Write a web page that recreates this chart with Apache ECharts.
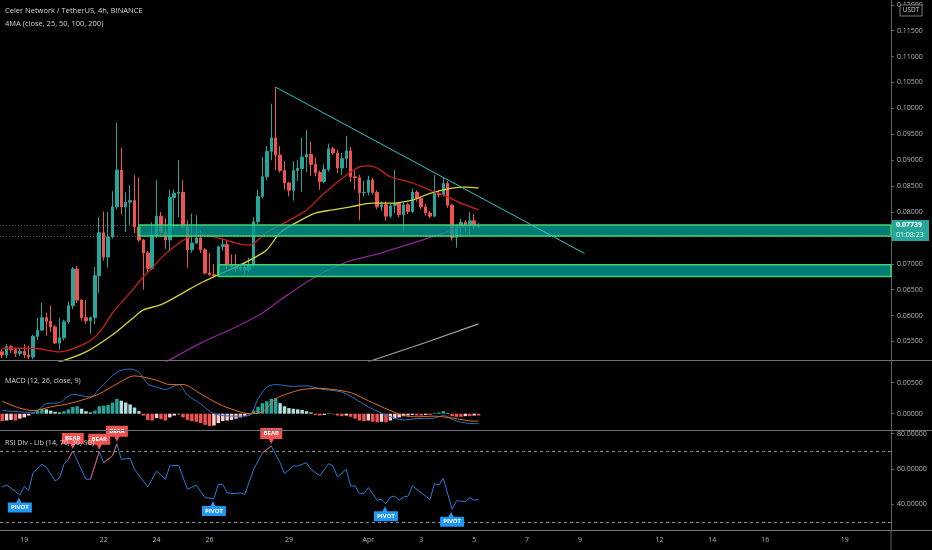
<!DOCTYPE html>
<html><head><meta charset="utf-8">
<script src="https://cdn.jsdelivr.net/npm/echarts@6/dist/echarts.min.js"></script>
<style>html,body{margin:0;padding:0;background:#000;}#c{width:932px;height:550px;}</style>
</head><body><div id="c"></div>
<script>
// ---- axis / tick data ----
const N_SLOTS = 202; // 4h slots shown on the time axis
const tickIdx  = [5,23,35,47,65,83,95,107,119,131,149,161,173,191];
const tickText = ['19','22','24','26','29','Apr','3','5','7','9','12','14','16','19'];
const priceTicks = [0.055,0.06,0.065,0.07,0.075,0.08,0.085,0.09,0.095,0.10,0.105,0.11,0.115,0.12];
const macdTicks = [0, 0.005];
const rsiTicks = [40, 60, 80];
const lastPrice = 0.07739;
const countdown = '01:08:23';

// ---- candles: [open, close, low, high] ----
const candles = [
[0.0530,0.0524,0.0518,0.0535],[0.0524,0.0540,0.0518,0.0545],[0.0540,0.0534,0.0528,0.0543],[0.0534,0.0527,0.0520,0.0538],
[0.0527,0.0531,0.0522,0.0536],[0.0531,0.0524,0.0518,0.0545],[0.0524,0.0520,0.0516,0.0542],[0.0520,0.0560,0.0516,0.0563],
[0.0560,0.0572,0.0553,0.0596],[0.0572,0.0596,0.0570,0.0625],[0.0596,0.0589,0.0561,0.0606],[0.0589,0.0578,0.0569,0.0619],
[0.0578,0.0547,0.0545,0.0582],[0.0547,0.0557,0.0534,0.0596],[0.0557,0.0588,0.0552,0.0592],[0.0588,0.0619,0.0584,0.0627],
[0.0619,0.0690,0.0612,0.0694],[0.0690,0.0630,0.0624,0.0696],[0.0630,0.0596,0.0590,0.0632],[0.0596,0.0590,0.0584,0.0630],
[0.0590,0.0596,0.0565,0.0598],[0.0596,0.0677,0.0583,0.0694],[0.0677,0.0760,0.0644,0.0790],[0.0760,0.0713,0.0706,0.0801],
[0.0713,0.0752,0.0693,0.0800],[0.0752,0.0810,0.0749,0.0840],[0.0810,0.0881,0.0805,0.0972],[0.0881,0.0810,0.0795,0.0924],
[0.0810,0.0819,0.0761,0.0838],[0.0819,0.0822,0.0775,0.0852],[0.0822,0.0771,0.0759,0.0871],[0.0771,0.0746,0.0742,0.0866],
[0.0746,0.0721,0.0650,0.0748],[0.0721,0.0691,0.0684,0.0725],[0.0691,0.0755,0.0688,0.0780],[0.0755,0.0792,0.0750,0.0862],
[0.0792,0.0761,0.0752,0.0800],[0.0761,0.0746,0.0729,0.0788],[0.0746,0.0828,0.0724,0.0843],[0.0828,0.0836,0.0767,0.0843],
[0.0836,0.0838,0.0790,0.0900],[0.0838,0.0771,0.0768,0.0862],[0.0771,0.0727,0.0692,0.0784],[0.0727,0.0740,0.0721,0.0797],
[0.0740,0.0750,0.0738,0.0794],[0.0750,0.0727,0.0721,0.0764],[0.0727,0.0682,0.0680,0.0731],[0.0682,0.0679,0.0677,0.0721],
[0.0679,0.0677,0.0673,0.0700],[0.0677,0.0733,0.0675,0.0735],[0.0733,0.0737,0.0725,0.0748],[0.0737,0.0698,0.0690,0.0745],
[0.0698,0.0694,0.0688,0.0718],[0.0694,0.0690,0.0684,0.0718],[0.0690,0.0693,0.0686,0.0700],[0.0693,0.0688,0.0680,0.0703],
[0.0688,0.0697,0.0684,0.0712],[0.0697,0.0781,0.0693,0.0790],[0.0781,0.0830,0.0777,0.0843],[0.0830,0.0868,0.0826,0.0906],
[0.0868,0.0917,0.0862,0.0927],[0.0917,0.0943,0.0900,0.1009],[0.0943,0.0910,0.0881,0.1041],[0.0910,0.0880,0.0876,0.0927],
[0.0880,0.0856,0.0843,0.0898],[0.0856,0.0842,0.0830,0.0858],[0.0842,0.0880,0.0822,0.0898],[0.0880,0.0884,0.0860,0.0900],
[0.0884,0.0906,0.0839,0.0943],[0.0906,0.0911,0.0877,0.0958],[0.0911,0.0892,0.0870,0.0936],[0.0892,0.0876,0.0869,0.0905],
[0.0876,0.0859,0.0843,0.0880],[0.0859,0.0882,0.0855,0.0892],[0.0882,0.0922,0.0878,0.0932],[0.0922,0.0914,0.0910,0.0926],
[0.0914,0.0885,0.0875,0.0920],[0.0885,0.0903,0.0871,0.0914],[0.0903,0.0918,0.0885,0.0947],[0.0918,0.0868,0.0858,0.0926],
[0.0868,0.0866,0.0843,0.0880],[0.0866,0.0837,0.0784,0.0872],[0.0837,0.0838,0.0830,0.0860],[0.0838,0.0862,0.0832,0.0870],
[0.0862,0.0838,0.0834,0.0866],[0.0838,0.0810,0.0805,0.0842],[0.0810,0.0814,0.0802,0.0820],[0.0814,0.0792,0.0783,0.0820],
[0.0792,0.0812,0.0788,0.0816],[0.0812,0.0817,0.0797,0.0881],[0.0817,0.0795,0.0790,0.0820],[0.0795,0.0814,0.0762,0.0818],
[0.0814,0.0801,0.0796,0.0818],[0.0801,0.0838,0.0798,0.0845],[0.0838,0.0826,0.0820,0.0842],[0.0826,0.0810,0.0805,0.0830],
[0.0810,0.0798,0.0793,0.0815],[0.0798,0.0792,0.0788,0.0802],[0.0792,0.0836,0.0790,0.0871],[0.0836,0.0833,0.0828,0.0840],
[0.0833,0.0855,0.0830,0.0866],[0.0855,0.0813,0.0808,0.0860],[0.0813,0.0751,0.0745,0.0816],[0.0751,0.0772,0.0731,0.0776],
[0.0772,0.0780,0.0752,0.0787],[0.0780,0.0775,0.0760,0.0784],[0.0775,0.0783,0.0756,0.0800],[0.0783,0.0772,0.0766,0.0796],
[0.0772,0.07739,0.0768,0.0779]
];

// ---- moving averages [slot, value] ----
const ma25 = [[0,0.0537],[7,0.0537],[13,0.0530],[19,0.0547],[22,0.0567],[25,0.0605],[29,0.0644],[32,0.0675],[34,0.0692],[36,0.0711],[39,0.0733],[42,0.0750],[45,0.0756],[49,0.0750],[53,0.0740],[56,0.0736],[60,0.0761],[64,0.0779],[69,0.0804],[73,0.0836],[78,0.0871],[81,0.0887],[83,0.0889],[85,0.0885],[88,0.0868],[93,0.0856],[97,0.0842],[100,0.0833],[104,0.0817],[108,0.0804]];
const ma50 = [[12,0.0508],[19,0.0530],[25,0.0563],[30,0.0598],[32,0.0611],[36,0.0621],[41,0.0644],[45,0.0663],[48,0.0675],[53,0.0694],[57,0.0711],[60,0.0727],[63,0.0760],[67,0.0781],[71,0.0798],[75,0.0804],[79,0.0810],[84,0.0817],[88,0.0817],[93,0.0823],[97,0.0836],[102,0.0846],[105,0.0848],[108,0.0846]];
const ma100 = [[37,0.0510],[45,0.0547],[53,0.0578],[59,0.0605],[63,0.0630],[71,0.0675],[78,0.0703],[86,0.0721],[93,0.0740],[100,0.0759],[103,0.0769],[108,0.0775]];
const ma200 = [[83,0.0511],[96,0.0548],[108,0.0584]];

// ---- drawings ----
const trendLine = [[62,0.1041],[132,0.0720]];
const zones = [[31,0.07750,0.07537],[49,0.06980,0.06755]]; // [startSlot, top, bottom]
const priceLines = [0.07739, 0.07524];

// ---- MACD ----
const macdHist = [-0.0012,-0.0011,-0.0010,-0.0011,-0.0008,-0.0006,-0.0003,0.0002,0.0005,0.0008,0.0007,0.0005,0.0003,0.0002,0.0004,0.0007,
0.0011,0.0012,0.0008,0.0004,0.0002,0.0005,0.0012,0.0013,0.0014,0.0018,0.0024,0.0021,0.0018,0.0015,0.0010,0.0004,
-0.0003,-0.0010,-0.0011,-0.0007,-0.0009,-0.0011,-0.0006,-0.0003,-0.0001,-0.0006,-0.0010,-0.0012,-0.0013,-0.0015,-0.0018,-0.0020,
-0.0019,-0.0015,-0.0012,-0.0011,-0.0010,-0.0008,-0.0006,-0.0004,-0.0001,0.0005,0.0011,0.0017,0.0020,0.0024,0.0025,0.0017,
0.0012,0.0009,0.0008,0.0007,0.0006,0.0004,0.0002,-0.0002,-0.0003,-0.0002,0.0001,-0.0001,-0.0003,-0.0004,-0.0003,-0.0005,
-0.0008,-0.0011,-0.0012,-0.0011,-0.0013,-0.0014,-0.0013,-0.0014,-0.0011,-0.0008,-0.0006,-0.0004,-0.0003,-0.0002,-0.0003,-0.0003,
-0.0002,-0.0002,0.0001,0.0002,0.0004,0.0001,-0.0004,-0.0005,-0.0005,-0.0004,-0.0004,-0.0003,-0.0003];
const macdLine = [[0,0.0005],[4,0.0003],[7,0.0002],[10,0.0016],[13,0.0018],[16,0.0031],[20,0.0027],[22,0.0040],[26,0.0067],[29,0.0072],[31,0.0067],[33,0.0048],[35,0.0043],[37,0.0039],[40,0.0047],[42,0.0030],[45,0.0016],[48,0.0000],[53,-0.0004],[56,-0.0003],[58,0.0024],[60,0.0043],[62,0.0047],[66,0.0044],[69,0.0045],[72,0.0040],[77,0.0035],[80,0.0024],[83,0.0011],[87,-0.0002],[91,-0.0010],[94,-0.0008],[98,-0.0007],[100,-0.0003],[103,-0.0012],[107,-0.0016],[108,-0.0016]];
const signalLine = [[0,0.0020],[4,0.0009],[7,0.0005],[11,0.0011],[15,0.0016],[19,0.0024],[22,0.0032],[26,0.0048],[30,0.0061],[32,0.0059],[35,0.0054],[38,0.0047],[41,0.0047],[45,0.0032],[49,0.0016],[53,0.0005],[56,0.0000],[59,0.0003],[62,0.0024],[65,0.0033],[68,0.0039],[72,0.0041],[75,0.0039],[79,0.0034],[83,0.0021],[87,0.0008],[91,-0.0003],[94,-0.0005],[98,-0.0004],[102,-0.0007],[107,-0.0012],[108,-0.0012]];

// ---- RSI ----
const rsi = [[0,49.8],[1,50.9],[2,49.1],[4,45.3],[5,50.0],[6,48.0],[7,57.9],[9,62.7],[10,61.0],[12,53.2],[13,55.0],[14,62.7],[15,65.5],[16,70.2],[18,59.4],[19,54.2],[20,54.2],[22,69.8],[23,63.6],[25,67.4],[26,74.3],[27,65.5],[29,66.0],[30,59.8],[33,49.8],[35,58.8],[37,54.2],[38,61.7],[40,62.1],[42,48.5],[44,50.9],[46,43.7],[48,43.3],[49,51.3],[50,51.3],[51,46.5],[53,46.0],[54,46.5],[55,45.6],[57,59.8],[59,69.2],[61,73.0],[63,63.6],[64,57.4],[66,61.7],[67,61.7],[69,63.6],[70,59.8],[72,56.1],[74,63.0],[75,61.7],[76,55.5],[78,59.8],[79,50.4],[80,50.4],[81,46.0],[82,46.0],[83,49.5],[85,42.3],[86,42.8],[87,40.3],[88,44.1],[89,44.6],[90,42.3],[91,44.1],[92,44.6],[93,50.4],[95,46.5],[97,42.8],[98,51.7],[99,50.9],[100,54.7],[102,37.2],[103,42.0],[104,41.8],[105,41.6],[106,43.9],[107,42.3],[108,42.8]];
const rsiBearSegs = [[[15,65.5],[16,70.2]],[[20,54.2],[22,69.8]],[[23,63.6],[25,67.4],[26,74.3]],[[59,69.2],[61,73.0]]];
const bearPts = [[16,70.2],[22,69.8],[26,74.3],[61,73.0]];
const pivotPts = [[4,45.3],[48,43.3],[87,40.3],[102,37.2]];
const rsiLevels = [70, 30];

// ---- chart ----
const FONT = 'Open Sans';
const TXT = '#b2b5be';
const AX = '#5d606b';
const slots = Array.from({length: N_SLOTS}, (_, i) => String(i));
const chart = echarts.init(document.getElementById('c'));

const histData = macdHist.map((v, i) => {
  const p = i > 0 ? macdHist[i - 1] : v;
  let c;
  if (v >= 0) c = v >= p ? '#26a69a' : '#b2dfdb';
  else c = v <= p ? '#ef5350' : '#ffcdd2';
  return {value: [i, v], itemStyle: {color: c}};
});

function yAx(grid, min, max, ticks) {
  return {
    gridIndex: grid, type: 'value', position: 'right', min: min, max: max,
    splitLine: {show: false},
    axisLine: {show: true, lineStyle: {color: AX, width: 1}},
    axisTick: {show: true, length: 3, lineStyle: {color: AX}, customValues: ticks},
    axisLabel: {customValues: ticks, formatter: v => v.toFixed(5), color: TXT, fontSize: 7, margin: 6, fontFamily: FONT}
  };
}
function xAx(grid, show) {
  return {
    gridIndex: grid, type: 'category', data: slots, boundaryGap: true, show: true,
    axisLine: {show: false}, axisTick: {show: false}, splitLine: {show: false},
    axisLabel: show ? {
      show: true, color: TXT, fontSize: 7, fontFamily: FONT, margin: 5,
      interval: (idx) => tickIdx.indexOf(idx) >= 0,
      formatter: (val) => { const k = tickIdx.indexOf(Number(val)); return k >= 0 ? tickText[k] : ''; }
    } : {show: false}
  };
}

const bearSymbol = 'path://M0,0 L22,0 L22,11 L13.5,11 L11,16 L8.5,11 L0,11 Z';
const pivotSymbol = 'path://M11,0 L13.5,5 L24,5 L24,15 L0,15 L0,5 L8.5,5 Z';

const series = [
  {type: 'candlestick', xAxisIndex: 0, yAxisIndex: 0, data: candles, barWidth: 3, z: 2,
   itemStyle: {color: '#26a69a', color0: '#ef5350', borderColor: '#26a69a', borderColor0: '#ef5350', borderWidth: 1}},
  {type: 'line', xAxisIndex: 0, yAxisIndex: 0, data: ma200, symbol: 'none', lineStyle: {color: '#a3a3a3', width: 1.2}, z: 3,
   markLine: {silent: true, symbol: 'none', precision: 6, label: {show: false},
     lineStyle: {color: 'rgba(150,150,150,0.6)', type: [1, 2], width: 1},
     data: priceLines.map(p => ({yAxis: p}))}},
  {type: 'line', xAxisIndex: 0, yAxisIndex: 0, data: ma100, symbol: 'none', smooth: 0.3, lineStyle: {color: '#8e2496', width: 1.3}, z: 3},
  {type: 'line', xAxisIndex: 0, yAxisIndex: 0, data: ma50, symbol: 'none', smooth: 0.3, lineStyle: {color: '#d2d23c', width: 1.3}, z: 3},
  {type: 'line', xAxisIndex: 0, yAxisIndex: 0, data: ma25, symbol: 'none', smooth: 0.3, lineStyle: {color: '#c81e1e', width: 1.3}, z: 3},
  {type: 'custom', xAxisIndex: 0, yAxisIndex: 0, data: zones, z: 5, encode: {x: 0, y: [1, 2]},
   renderItem: (params, api) => {
     const s = api.coord([api.value(0), api.value(1)]);
     const e = api.coord([api.value(0), api.value(2)]);
     const cs = params.coordSys;
     return {type: 'rect', shape: {x: s[0], y: s[1], width: cs.x + cs.width - s[0], height: e[1] - s[1]},
       style: {fill: 'rgba(0,158,150,0.78)', stroke: '#45d46a', lineWidth: 1.5}};
   }},
  {type: 'line', xAxisIndex: 0, yAxisIndex: 0, data: trendLine, symbol: 'none', lineStyle: {color: '#2bc4c8', width: 1}, z: 6},
  {type: 'bar', xAxisIndex: 1, yAxisIndex: 1, data: histData, barWidth: '78%'},
  {type: 'line', xAxisIndex: 1, yAxisIndex: 1, data: macdLine, symbol: 'none', smooth: 0.3, lineStyle: {color: '#2a72c9', width: 1}, z: 4},
  {type: 'line', xAxisIndex: 1, yAxisIndex: 1, data: signalLine, symbol: 'none', smooth: 0.3, lineStyle: {color: '#e0701e', width: 1}, z: 4},
  {type: 'line', xAxisIndex: 2, yAxisIndex: 2, data: rsi, symbol: 'none', lineStyle: {color: '#2a7bd6', width: 1}, z: 3,
   markLine: {silent: true, symbol: 'none', precision: 2, label: {show: false},
     lineStyle: {color: '#8a8d96', type: [3, 3], width: 1}, data: rsiLevels.map(v => ({yAxis: v}))},
   markPoint: {silent: true, data: [
     ...bearPts.map(p => ({coord: p, symbol: bearSymbol, symbolSize: [22, 16], symbolOffset: [0, -10],
        itemStyle: {color: '#ef5350'},
        label: {show: true, formatter: 'BEAR', color: '#fff', fontSize: 6, fontWeight: 'bold', fontFamily: FONT, offset: [0, -2.5]}})),
     ...pivotPts.map(p => ({coord: p, symbol: pivotSymbol, symbolSize: [24, 15], symbolOffset: [0, 10],
        itemStyle: {color: '#2196f3'},
        label: {show: true, formatter: 'PIVOT', color: '#fff', fontSize: 6, fontWeight: 'bold', fontFamily: FONT, offset: [0, 2.5]}}))
   ]}},
  ...rsiBearSegs.map(seg => ({type: 'line', xAxisIndex: 2, yAxisIndex: 2, data: seg, symbol: 'none', lineStyle: {color: '#e05050', width: 1}, z: 4}))
];

chart.setOption({
  animation: false,
  backgroundColor: '#000',
  grid: [
    {left: -2, width: 893, top: 0, height: 361},
    {left: -2, width: 893, top: 361, height: 70},
    {left: -2, width: 893, top: 431, height: 100}
  ],
  xAxis: [xAx(0, false), xAx(1, false), xAx(2, true)],
  yAxis: [yAx(0, 0.0512355, 0.1209266, priceTicks),
          yAx(1, -0.0027903, 0.0085, macdTicks),
          yAx(2, 24.87, 81.53, rsiTicks)],
  series: series
});

// ---- overlay graphics (titles, separators, price label) ----
const py = chart.convertToPixel({yAxisIndex: 0}, lastPrice);
const font = (s, w) => (w || 'normal') + ' ' + s + 'px "' + FONT + '"';
chart.setOption({
  graphic: [
    {type: 'line', shape: {x1: 0, y1: 360.5, x2: 932, y2: 360.5}, style: {stroke: '#6f727c', lineWidth: 1.2}, z: 50},
    {type: 'line', shape: {x1: 0, y1: 430.5, x2: 932, y2: 430.5}, style: {stroke: '#6f727c', lineWidth: 1.2}, z: 50},
    {type: 'line', shape: {x1: 0, y1: 530.5, x2: 932, y2: 530.5}, style: {stroke: '#6f727c', lineWidth: 1.2}, z: 50},
    {type: 'line', shape: {x1: 891, y1: 531, x2: 891, y2: 550}, style: {stroke: AX, lineWidth: 1}, z: 50},
    {type: 'text', x: 5, y: 11, style: {text: 'Celer Network / TetherUS, 4h, BINANCE', fill: '#d1d4dc', font: font(7.5), verticalAlign: 'middle'}, z: 60},
    {type: 'text', x: 5, y: 24, style: {text: '4MA (close, 25, 50, 100, 200)', fill: '#d1d4dc', font: font(7.5), verticalAlign: 'middle'}, z: 60},
    {type: 'text', x: 5, y: 381, style: {text: 'MACD (12, 26, close, 9)', fill: '#d1d4dc', font: font(7.2), verticalAlign: 'middle'}, z: 60},
    {type: 'text', x: 5, y: 443, style: {text: 'RSI Div - Lib (14, 70, 30, 90)', fill: '#d1d4dc', font: font(7.2), verticalAlign: 'middle'}, z: 40},
    {type: 'rect', shape: {x: 892, y: py - 5.5, width: 37, height: 21}, style: {fill: '#26a69a'}, z: 60},
    {type: 'text', x: 896, y: py - 0.5, style: {text: lastPrice.toFixed(5), fill: '#ffffff', font: font(7, 'bold'), verticalAlign: 'middle'}, z: 61},
    {type: 'text', x: 896, y: py + 9.5, style: {text: countdown, fill: '#e8f5f3', font: font(7), verticalAlign: 'middle'}, z: 61},
    {type: 'rect', shape: {x: 900, y: 5, width: 22, height: 11}, style: {fill: '#000', stroke: '#787b86', lineWidth: 1}, z: 60},
    {type: 'text', x: 911, y: 10.5, style: {text: 'USDT', fill: '#d1d4dc', font: font(6.5), align: 'center', verticalAlign: 'middle'}, z: 61}
  ]
});
</script></body></html>
